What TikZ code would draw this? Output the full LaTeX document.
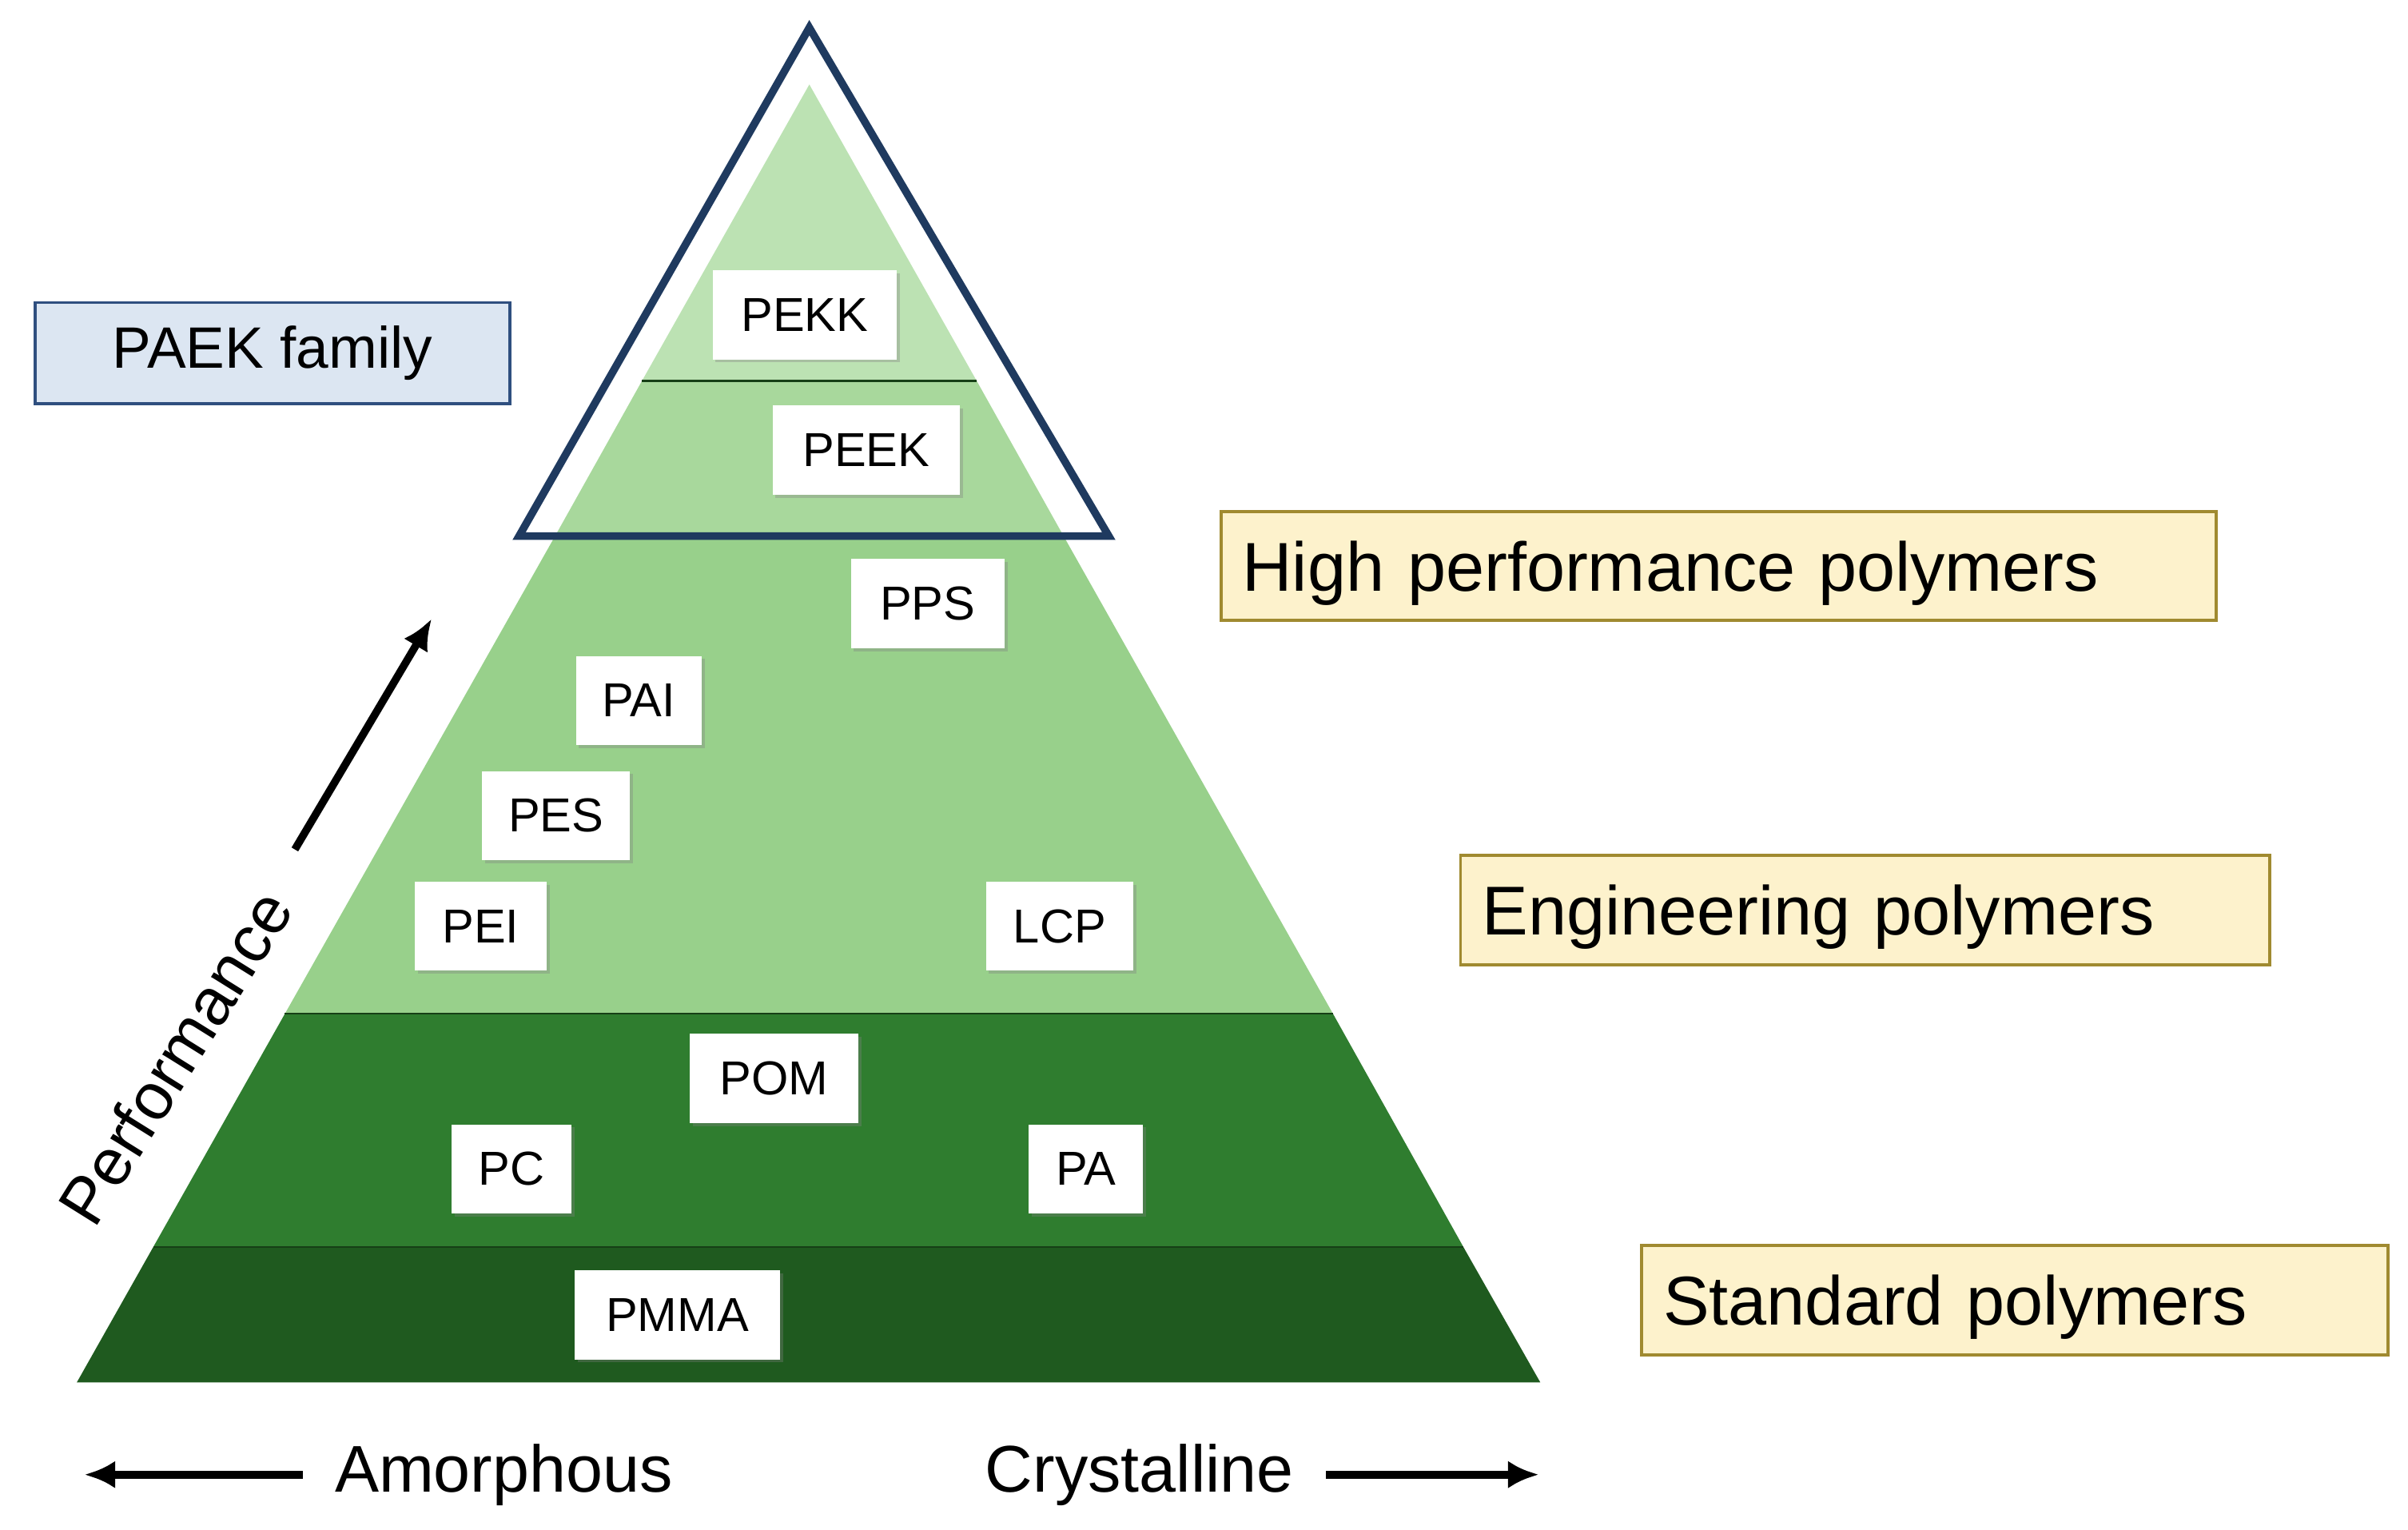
\documentclass[tikz,border=0pt]{standalone}
\usepackage{fontspec}
\setmainfont{Liberation Sans}
\usetikzlibrary{arrows.meta,shadows}
\definecolor{g1}{HTML}{BCE2B3}
\definecolor{g2}{HTML}{A8D89C}
\definecolor{g3}{HTML}{98D08B}
\definecolor{g4}{HTML}{2F7D2F}
\definecolor{g5}{HTML}{1F5A1F}
\definecolor{navy}{HTML}{1F3A5F}
\definecolor{ybox}{HTML}{FDF2CC}
\definecolor{yline}{HTML}{A08A30}
\definecolor{bbox}{HTML}{DCE6F2}
\definecolor{bline}{HTML}{2F4F7F}
\begin{document}
\begin{tikzpicture}[x=0.5pt,y=-0.5pt,
 lab/.style={fill=white,font=\fontsize{15.5}{18}\selectfont,inner sep=0pt,minimum height=29pt,drop shadow={shadow xshift=1pt,shadow yshift=-1pt,opacity=0.35}},
 cat/.style={fill=ybox,draw=yline,line width=1pt,font=\fontsize{22.5}{26}\selectfont,anchor=north west,inner xsep=7pt,text depth=0pt,align=left},
 arr/.style={-{Latex[length=10pt,width=9pt]},line width=2.5pt}]
\useasboundingbox (0,0) rectangle (1568,996);
\fill[g1] (527,55) -- (418,248) -- (636,248) -- cycle;
\fill[g2] (418,248) -- (362,348) -- (692,348) -- (636,248) -- cycle;
\fill[g3] (362,348) -- (185.5,660) -- (868,660) -- (692,348) -- cycle;
\fill[g4] (185.5,660) -- (99.7,812) -- (953,812) -- (868,660) -- cycle;
\fill[g5] (99.7,812) -- (50,900) -- (1003,900) -- (953,812) -- cycle;
\draw[g5!70!black,line width=0.6pt] (418,248)--(636,248) (185.5,660)--(868,660) (99.7,812)--(953,812);
\draw[navy,line width=2.5pt,line join=miter] (527,18) -- (338,349) -- (722,349) -- cycle;
\node[lab,minimum width=60pt] (pekk) at (524,205) {PEKK};
\node[lab,minimum width=61pt] (peek) at (564,293) {PEEK};
\node[lab,minimum width=50pt] (pps) at (604,393) {PPS};
\node[lab,minimum width=41pt] (pai) at (416,456) {PAI};
\node[lab,minimum width=48pt] (pes) at (362,531) {PES};
\node[lab,minimum width=43pt] (pei) at (313,603) {PEI};
\node[lab,minimum width=48pt] (lcp) at (690,603) {LCP};
\node[lab,minimum width=55pt] (pom) at (504,702) {POM};
\node[lab,minimum width=39pt] (pc) at (333,761) {PC};
\node[lab,minimum width=37pt] (pa) at (707,761) {PA};
\node[lab,minimum width=67pt] (pmma) at (441,856) {PMMA};
\node[fill=bbox,draw=bline,line width=1pt,font=\fontsize{19}{23}\selectfont,minimum width=154.5pt,minimum height=33pt] (paek) at (177.5,230) {PAEK family};
\node[cat,text width=310pt,minimum height=35.5pt] (hp) at (794,332) {High performance polymers};
\node[cat,text width=249.5pt,minimum height=35.5pt] (ep) at (950,556) {Engineering polymers};
\node[cat,text width=229pt,minimum height=35.5pt] (sp) at (1068,810) {Standard polymers};
\node[font=\fontsize{21.5}{25}\selectfont,rotate=58] (perf) at (114,688) {Performance};
\coordinate (pa1) at (192,553);
\coordinate (pa2) at (281,403);
\draw[arr] (pa1) -- (pa2);
\node[font=\fontsize{21.5}{25}\selectfont] (amo) at (328,960) {Amorphous};
\node[font=\fontsize{21.5}{25}\selectfont] (cry) at (742,960) {Crystalline};
\coordinate (al) at (55,960);
\coordinate (cr) at (1002,960);
\draw[arr] (amo.west) ++(-14,0) -- (al);
\draw[arr] (cry.east) ++(14,0) -- (cr);
\end{tikzpicture}
\end{document}
